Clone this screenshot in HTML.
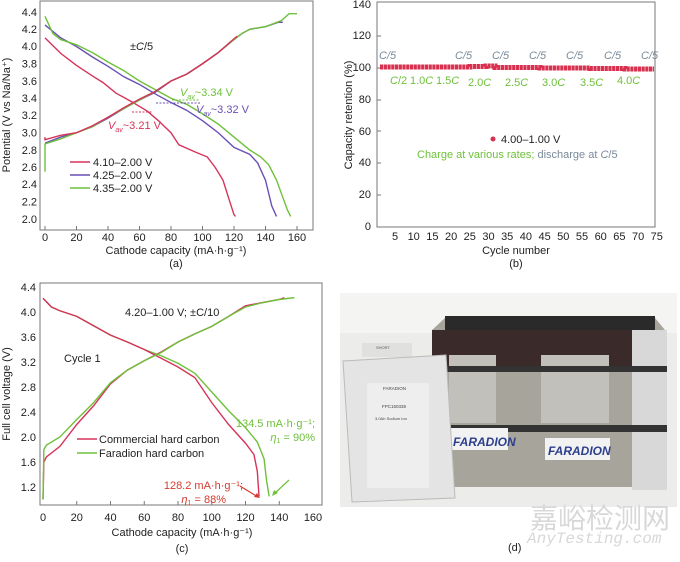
<!DOCTYPE html>
<html><head><meta charset="utf-8"><style>
body{margin:0;background:#fff;width:680px;height:557px;overflow:hidden}
svg{font-family:"Liberation Sans",Arial,sans-serif}
.t{font-size:11px;fill:#222}
.s{fill:none;vector-effect:non-scaling-stroke;stroke-width:1.4}
</style></head><body>
<svg width="680" height="557" viewBox="0 0 680 557">
<!-- Panel a -->
<rect x="40" y="1" width="273" height="229" fill="none" stroke="#777" stroke-width="1"/>
<g stroke="#777">
<line x1="45" y1="230" x2="45" y2="226"/><line x1="76.5" y1="230" x2="76.5" y2="226"/><line x1="108" y1="230" x2="108" y2="226"/><line x1="139.5" y1="230" x2="139.5" y2="226"/><line x1="171" y1="230" x2="171" y2="226"/><line x1="202.5" y1="230" x2="202.5" y2="226"/><line x1="234" y1="230" x2="234" y2="226"/><line x1="265.5" y1="230" x2="265.5" y2="226"/><line x1="297" y1="230" x2="297" y2="226"/>
</g>
<g class="t" text-anchor="middle">
<text x="45" y="241">0</text><text x="76.5" y="241">20</text><text x="108" y="241">40</text><text x="139.5" y="241">60</text><text x="171" y="241">80</text><text x="202.5" y="241">100</text><text x="234" y="241">120</text><text x="265.5" y="241">140</text><text x="297" y="241">160</text>
<text x="176" y="254">Cathode capacity (mA·h·g⁻¹)</text>
<text x="176" y="267">(a)</text>
</g>
<g class="t" text-anchor="end">
<text x="37" y="16">4.4</text><text x="37" y="33">4.2</text><text x="37" y="50">4.0</text><text x="37" y="67.5">3.8</text><text x="37" y="85">3.6</text><text x="37" y="102">3.4</text><text x="37" y="119">3.2</text><text x="37" y="136.5">3.0</text><text x="37" y="154">2.8</text><text x="37" y="171">2.6</text><text x="37" y="188">2.4</text><text x="37" y="205.5">2.2</text><text x="37" y="223">2.0</text>
</g>
<text class="t" transform="translate(10,115) rotate(-90)" text-anchor="middle">Potential (V vs Na/Na⁺)</text>
<g transform="translate(45,219) scale(1.575,-86.25) translate(0,-2)">
<polyline class="s" stroke="#d6335a" points="0,4.1 10,3.92 20,3.78 30,3.66 37,3.58 45,3.46 55,3.36 65,3.25 72,3.14 80,3.0 85,2.86 95,2.78 103,2.72 108,2.6 113,2.45 117,2.22 120,2.05 121,2.03"/>
<polyline class="s" stroke="#6a4fb5" points="0,4.25 10,4.1 20,4.0 30,3.88 40,3.77 50,3.65 60,3.56 70,3.45 80,3.35 90,3.26 100,3.14 110,3.0 120,2.83 130,2.75 135,2.65 140,2.45 144,2.15 147,2.03"/>
<polyline class="s" stroke="#6ec13a" points="0,4.35 5,4.15 10,4.08 20,4.02 30,3.93 40,3.82 50,3.72 60,3.6 70,3.5 80,3.4 90,3.33 100,3.22 110,3.1 120,2.95 130,2.8 137,2.72 142,2.63 147,2.45 151,2.25 154,2.1 156,2.03"/>
<polyline class="s" stroke="#6a4fb5" points="0,2.88 10,2.95 20,3.0 30,3.07 40,3.17 50,3.28 60,3.38 70,3.47 80,3.6 90,3.68 100,3.8 110,3.93 120,4.08 125,4.15 130,4.2 140,4.23 148,4.28 151,4.28"/>
<polyline class="s" stroke="#6ec13a" points="0,2.55 0,2.87 10,2.93 20,3.0 30,3.07 40,3.18 50,3.28 60,3.38 70,3.48 80,3.6 90,3.68 100,3.8 110,3.93 120,4.08 125,4.15 130,4.2 140,4.23 150,4.3 155,4.38 160,4.38"/>
<polyline class="s" stroke="#d6335a" points="0,2.95 0,2.92 10,2.97 20,3.0 30,3.08 40,3.18 50,3.29 60,3.39 70,3.48 80,3.6 90,3.68 100,3.8 110,3.93 120,4.09 122,4.12"/>
</g>
<text x="130" y="50" class="t">±<tspan font-style="italic">C</tspan>/5</text>
<line x1="132" y1="112" x2="153" y2="112" stroke="#d6335a" stroke-dasharray="2,1.5"/>
<line x1="156" y1="103" x2="200" y2="103" stroke="#6a4fb5" stroke-dasharray="2,1.5"/>
<line x1="172" y1="100" x2="200" y2="100" stroke="#6ec13a" stroke-dasharray="2,1.5"/>
<text x="108" y="129" font-size="11" fill="#d6335a"><tspan font-style="italic">V</tspan><tspan font-size="7" font-style="italic" dy="3">av</tspan><tspan dy="-3">~3.21 V</tspan></text>
<text x="180" y="96" font-size="11" fill="#6ec13a"><tspan font-style="italic">V</tspan><tspan font-size="7" font-style="italic" dy="3">av</tspan><tspan dy="-3">~3.34 V</tspan></text>
<text x="196" y="113" font-size="11" fill="#6a4fb5"><tspan font-style="italic">V</tspan><tspan font-size="7" font-style="italic" dy="3">av</tspan><tspan dy="-3">~3.32 V</tspan></text>
<line x1="70" y1="162" x2="90" y2="162" stroke="#d6335a" stroke-width="1.4"/>
<line x1="70" y1="175" x2="90" y2="175" stroke="#6a4fb5" stroke-width="1.4"/>
<line x1="70" y1="188" x2="90" y2="188" stroke="#6ec13a" stroke-width="1.4"/>
<text class="t" x="93" y="166">4.10–2.00 V</text>
<text class="t" x="93" y="179">4.25–2.00 V</text>
<text class="t" x="93" y="192">4.35–2.00 V</text>

<!-- Panel b -->
<rect x="377" y="2" width="278" height="225" fill="none" stroke="#777"/>
<g class="t" text-anchor="end">
<text x="371" y="8">140</text><text x="371" y="39">120</text><text x="371" y="71">100</text><text x="371" y="103">80</text><text x="371" y="135">60</text><text x="371" y="166">40</text><text x="371" y="198">20</text><text x="371" y="230">0</text>
</g>
<g stroke="#777">
<line x1="377" y1="36" x2="381" y2="36"/><line x1="377" y1="68" x2="381" y2="68"/><line x1="377" y1="100" x2="381" y2="100"/><line x1="377" y1="131" x2="381" y2="131"/><line x1="377" y1="163" x2="381" y2="163"/><line x1="377" y1="195" x2="381" y2="195"/>
</g>
<g class="t" text-anchor="middle">
<text x="395" y="240">5</text><text x="413.7" y="240">10</text><text x="432.4" y="240">15</text><text x="451.1" y="240">20</text><text x="469.8" y="240">25</text><text x="488.5" y="240">30</text><text x="507.2" y="240">35</text><text x="525.9" y="240">40</text><text x="544.6" y="240">45</text><text x="563.3" y="240">50</text><text x="582" y="240">55</text><text x="600.7" y="240">60</text><text x="619.4" y="240">65</text><text x="638.1" y="240">70</text><text x="656.8" y="240">75</text>
<text x="516" y="254">Cycle number</text>
<text x="516" y="267">(b)</text>
</g>
<text class="t" transform="translate(352,115) rotate(-90)" text-anchor="middle">Capacity retention (%)</text>
<g fill="#d9304f" id="dots"></g>
<path d="M380,67 H470 V66.5 H486 V66 H495 V67.5 H540 V68 H590 V68.5 H625 V69 H654" stroke="#d9304f" stroke-width="5" stroke-dasharray="3.2,0.54" fill="none"/>
<g font-size="11" fill="#7a8a99" font-style="italic">
<text x="379" y="59">C/5</text><text x="455" y="59">C/5</text><text x="492" y="59">C/5</text><text x="529" y="59">C/5</text><text x="566" y="59">C/5</text><text x="604" y="59">C/5</text><text x="641" y="59">C/5</text>
</g>
<g font-size="11" fill="#6ec13a">
<text x="390" y="84"><tspan font-style="italic">C</tspan>/2</text>
<text x="410" y="84">1.0<tspan font-style="italic">C</tspan></text>
<text x="436" y="84">1.5<tspan font-style="italic">C</tspan></text>
<text x="468" y="86">2.0<tspan font-style="italic">C</tspan></text>
<text x="505" y="86">2.5<tspan font-style="italic">C</tspan></text>
<text x="542" y="86">3.0<tspan font-style="italic">C</tspan></text>
<text x="580" y="86">3.5<tspan font-style="italic">C</tspan></text>
<text x="617" y="84">4.0<tspan font-style="italic">C</tspan></text>
<text x="417" y="158">Charge at various rates; <tspan fill="#7a8a99">discharge at <tspan font-style="italic">C</tspan>/5</tspan></text>
</g>
<circle cx="493" cy="139" r="2.5" fill="#d9304f"/>
<text class="t" x="501" y="143">4.00–1.00 V</text>

<!-- Panel c -->
<rect x="40" y="283" width="282" height="222" fill="none" stroke="#777"/>
<g class="t" text-anchor="end">
<text x="36" y="291">4.4</text><text x="36" y="316">4.0</text><text x="36" y="341">3.6</text><text x="36" y="366">3.2</text><text x="36" y="391">2.8</text><text x="36" y="416">2.4</text><text x="36" y="441">2.0</text><text x="36" y="466">1.6</text><text x="36" y="491">1.2</text>
</g>
<g class="t" text-anchor="middle">
<text x="43" y="521">0</text><text x="76.75" y="521">20</text><text x="110.5" y="521">40</text><text x="144.25" y="521">60</text><text x="178" y="521">80</text><text x="211.75" y="521">100</text><text x="245.5" y="521">120</text><text x="279.25" y="521">140</text><text x="313" y="521">160</text>
<text x="182" y="536">Cathode capacity (mA·h·g⁻¹)</text>
<text x="182" y="552">(c)</text>
</g>
<g stroke="#777">
<line x1="76.75" y1="505" x2="76.75" y2="501"/><line x1="110.5" y1="505" x2="110.5" y2="501"/><line x1="144.25" y1="505" x2="144.25" y2="501"/><line x1="178" y1="505" x2="178" y2="501"/><line x1="211.75" y1="505" x2="211.75" y2="501"/><line x1="245.5" y1="505" x2="245.5" y2="501"/><line x1="279.25" y1="505" x2="279.25" y2="501"/>
</g>
<text class="t" transform="translate(10,394) rotate(-90)" text-anchor="middle">Full cell voltage (V)</text>
<g transform="translate(43,487) scale(1.6875,-62.5) translate(0,-1.2)">
<polyline class="s" stroke="#6ec13a" points="0,4.22 5,4.08 10,4.02 20,3.93 30,3.78 40,3.63 50,3.52 60,3.4 70,3.3 80,3.18 90,3.02 100,2.72 110,2.42 120,2.15 127,1.92 131,1.65 132.5,1.3 134,1.05"/>
<polyline class="s" stroke="#d6335a" points="0,4.22 5,4.08 10,4.02 20,3.93 30,3.78 40,3.63 50,3.52 60,3.4 70,3.26 80,3.12 90,2.95 100,2.55 110,2.2 120,1.9 125,1.72 127,1.45 128,1.05"/>
<polyline class="s" stroke="#d6335a" points="0,1.0 0.5,1.6 2,1.68 10,1.85 20,2.2 30,2.5 40,2.85 50,3.07 60,3.22 70,3.36 80,3.52 90,3.65 100,3.77 110,3.93 120,4.1 130,4.15 140,4.2 143,4.23"/>
<polyline class="s" stroke="#6ec13a" points="0,1.0 0.5,1.8 2,1.87 10,2.0 20,2.28 30,2.55 40,2.87 50,3.07 60,3.22 70,3.35 80,3.52 90,3.65 100,3.77 110,3.93 120,4.08 130,4.15 140,4.2 149,4.23"/>
</g>
<text class="t" x="125" y="316">4.20–1.00 V; ±C/10</text>
<text class="t" x="64" y="362">Cycle 1</text>
<line x1="77" y1="439" x2="97" y2="439" stroke="#d6335a" stroke-width="1.4"/>
<line x1="77" y1="453" x2="97" y2="453" stroke="#6ec13a" stroke-width="1.4"/>
<text class="t" x="99" y="443">Commercial hard carbon</text>
<text class="t" x="99" y="457">Faradion hard carbon</text>
<text x="315" y="427" font-size="11" fill="#6ec13a" text-anchor="end">134.5 mA·h·g⁻¹;</text>
<text x="315" y="441" font-size="11" fill="#6ec13a" text-anchor="end"><tspan font-style="italic">η</tspan><tspan font-size="7" dy="2">1</tspan><tspan dy="-2"> = 90%</tspan></text>
<text x="243" y="489" font-size="11" fill="#d63a2e" text-anchor="end">128.2 mA·h·g⁻¹;</text>
<text x="226" y="503" font-size="11" fill="#d63a2e" text-anchor="end"><tspan font-style="italic">η</tspan><tspan font-size="7" dy="2">1</tspan><tspan dy="-2"> = 88%</tspan></text>
<line x1="240" y1="486" x2="258" y2="497" stroke="#d63a2e" stroke-width="1.2"/>
<path d="M260,498 l-6,-1 l3,-4z" fill="#d63a2e"/>
<line x1="289" y1="480" x2="274" y2="494" stroke="#6ec13a" stroke-width="1.2"/>
<path d="M272,496 l2,-6 l4,3z" fill="#6ec13a"/>

<!-- Panel d photo -->
<rect x="340" y="293" width="337" height="214" fill="#ececea"/>
<rect x="340" y="293" width="337" height="40" fill="#f4f4f2"/>
<path d="M432,330 L445,318 L655,318 L665,330 L665,487 L432,487 Z" fill="#a7a49c"/>
<rect x="445" y="316" width="210" height="22" fill="#2a2a2a"/>
<rect x="432" y="330" width="135" height="40" fill="#3a2a2a"/>
<rect x="532" y="330" width="130" height="40" fill="#3a2a2a"/>
<rect x="632" y="330" width="35" height="160" fill="#d8d8d8"/>
<rect x="449" y="355" width="47" height="68" fill="#c2c0bb"/>
<rect x="541" y="355" width="68" height="68" fill="#c2c0bb"/>
<rect x="432" y="366" width="235" height="6" fill="#333"/>
<rect x="432" y="425" width="235" height="7" fill="#333"/>
<rect x="450" y="428" width="58" height="22" fill="#f2f2f2"/>
<rect x="545" y="438" width="65" height="22" fill="#f2f2f2"/>
<text x="453" y="446" font-size="12" font-weight="bold" font-style="italic" fill="#2c3e8c">FARADION</text>
<text x="548" y="455" font-size="12" font-weight="bold" font-style="italic" fill="#2c3e8c">FARADION</text>
<rect x="362" y="343" width="50" height="14" fill="#e0e0de"/>
<text x="376" y="349" font-size="4" fill="#555">SHORT</text>
<path d="M343,361 L446,355 L455,498 L352,502 Z" fill="#e4e4e4" stroke="#bbb"/>
<rect x="367" y="383" width="62" height="105" fill="#eeeeee"/>
<text x="383" y="390" font-size="4.5" fill="#444">FARADION</text>
<text x="382" y="408" font-size="4.5" fill="#444">FPC150338</text>
<text x="375" y="420" font-size="4" fill="#444">3.0Ah Sodium Ion</text>
<text x="530" y="528" font-size="28" fill="#d8d8d8" font-family="'Noto Sans CJK SC',sans-serif">嘉峪检测网</text>
<text x="527" y="543" font-size="16" font-style="italic" fill="#d8d8d8" font-family="'Liberation Mono',monospace">AnyTesting.com</text>
<text class="t" x="508" y="551">(d)</text>
</svg>
</body></html>
